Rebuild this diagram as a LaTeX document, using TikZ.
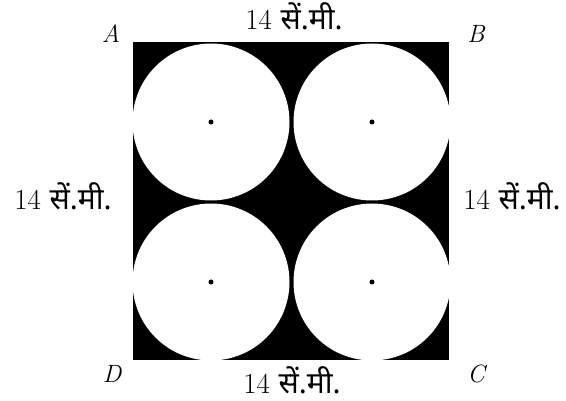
\documentclass[tikz,border=0pt]{standalone}
\usepackage{fontspec}
\newfontfamily\dev[Script=Devanagari]{Noto Sans}
\begin{document}
\begin{tikzpicture}[x=1pt,y=-1pt,
  lbl/.style={inner sep=0pt,anchor=base,font=\fontsize{29}{32}\selectfont},
  vtx/.style={inner sep=0pt,anchor=base,font=\fontsize{25}{28}\selectfont\itshape},
  hole/.style={fill=white,circle,minimum size=157pt,inner sep=0pt},
  ctr/.style={fill=black}]
\useasboundingbox (0,0) rectangle (566,401);
\fill[black] (133,42) rectangle (449,360);
\node[hole] (c1) at (211,122) {};
\node[hole] (c2) at (372,122) {};
\node[hole] (c3) at (211,282) {};
\node[hole] (c4) at (372,282) {};
\foreach \c in {c1,c2,c3,c4} \fill[ctr] (\c.center) circle (2.5pt);
\node[vtx] (A) at (111,43) {A};
\node[vtx] (B) at (476,43) {B};
\node[vtx] (C) at (476,382) {C};
\node[vtx] (D) at (112,382) {D};
\newcommand\sml{14 {\dev\fontsize{30}{32}\selectfont सें.मी.}}
\node[lbl] (top) at (294,30) {\sml};
\node[lbl] (bot) at (292,393) {\sml};
\node[lbl] (lft) at (63,210) {\sml};
\node[lbl] (rgt) at (512,210) {\sml};
\end{tikzpicture}
\end{document}
